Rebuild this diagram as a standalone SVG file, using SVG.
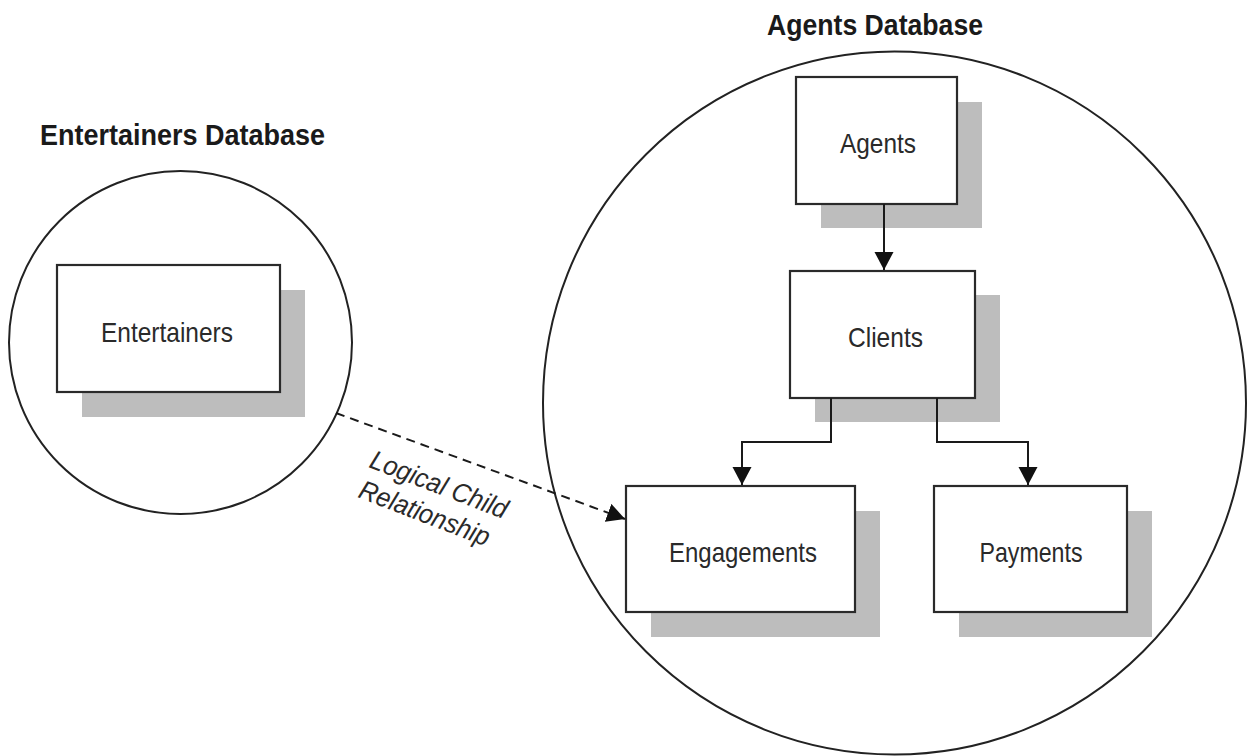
<svg xmlns="http://www.w3.org/2000/svg" width="1253" height="756" viewBox="0 0 1253 756">
<style>
.bg{fill:#ffffff}
.db{fill:none;stroke:#222;stroke-width:2}
.shadow{fill:#bdbdbd}
.box{fill:#ffffff;stroke:#2a2a2a;stroke-width:2.2}
.title{font-family:"Liberation Sans Narrow","Liberation Sans",Arial,sans-serif;font-weight:bold;font-size:29px;fill:#1a1a1a}
.label{font-family:"Liberation Sans Narrow","Liberation Sans",Arial,sans-serif;font-size:28px;fill:#2a2a2a;text-anchor:middle}
.rel{font-family:"Liberation Sans Narrow","Liberation Sans",Arial,sans-serif;font-style:italic;font-size:27px;fill:#2a2a2a}
.conn{fill:none;stroke:#1a1a1a;stroke-width:2}
.dash{fill:none;stroke:#1a1a1a;stroke-width:2;stroke-dasharray:9 6}
</style>
<defs>
<marker id="arrow" markerUnits="userSpaceOnUse" markerWidth="20" markerHeight="20" refX="18" refY="9.5" orient="auto">
<path d="M0,0 L18,9.5 L0,19 Z" fill="#111"/>
</marker>
</defs>
<rect class="bg" x="0" y="0" width="1253" height="756"/>

<g id="entertainers-db">
<circle class="db" cx="180.5" cy="342.5" r="171.5"/>
<text class="title" x="40" y="145" textLength="285" lengthAdjust="spacingAndGlyphs">Entertainers Database</text>
</g>

<g id="agents-db">
<circle class="db" cx="894.5" cy="403" r="351.5"/>
<text class="title" x="767" y="35" textLength="216" lengthAdjust="spacingAndGlyphs">Agents Database</text>
</g>

<g id="entertainers">
<rect class="shadow" x="82" y="290" width="223" height="127"/>
<rect class="box" x="57" y="265" width="223" height="127"/>
<text class="label" x="167" y="342" textLength="132" lengthAdjust="spacingAndGlyphs">Entertainers</text>
</g>

<g id="agents">
<rect class="shadow" x="821" y="102" width="161" height="126"/>
<rect class="box" x="796" y="77" width="161" height="127"/>
<text class="label" x="878" y="153" textLength="76" lengthAdjust="spacingAndGlyphs">Agents</text>
</g>

<g id="clients">
<rect class="shadow" x="815" y="295" width="185" height="127"/>
<rect class="box" x="790" y="271" width="185" height="127"/>
<text class="label" x="885.5" y="347" textLength="75" lengthAdjust="spacingAndGlyphs">Clients</text>
</g>

<g id="engagements">
<rect class="shadow" x="651" y="511" width="229" height="126"/>
<rect class="box" x="626" y="486" width="229" height="126"/>
<text class="label" x="743" y="562" textLength="148" lengthAdjust="spacingAndGlyphs">Engagements</text>
</g>

<g id="payments">
<rect class="shadow" x="959" y="511" width="193" height="126"/>
<rect class="box" x="934" y="486" width="193" height="126"/>
<text class="label" x="1031" y="562" textLength="103" lengthAdjust="spacingAndGlyphs">Payments</text>
</g>

<g id="connectors">
<line class="conn" x1="884" y1="204" x2="884" y2="270" marker-end="url(#arrow)"/>
<polyline class="conn" points="831,398 831,442 742,442 742,485" marker-end="url(#arrow)"/>
<polyline class="conn" points="937,398 937,442 1028,442 1028,485" marker-end="url(#arrow)"/>
<line class="dash" x1="336" y1="413" x2="625" y2="519" marker-end="url(#arrow)"/>
<text class="rel" transform="translate(368,467) rotate(21)" textLength="145" lengthAdjust="spacingAndGlyphs">Logical Child</text>
<text class="rel" transform="translate(357,497) rotate(21)" textLength="138" lengthAdjust="spacingAndGlyphs">Relationship</text>
</g>
</svg>
